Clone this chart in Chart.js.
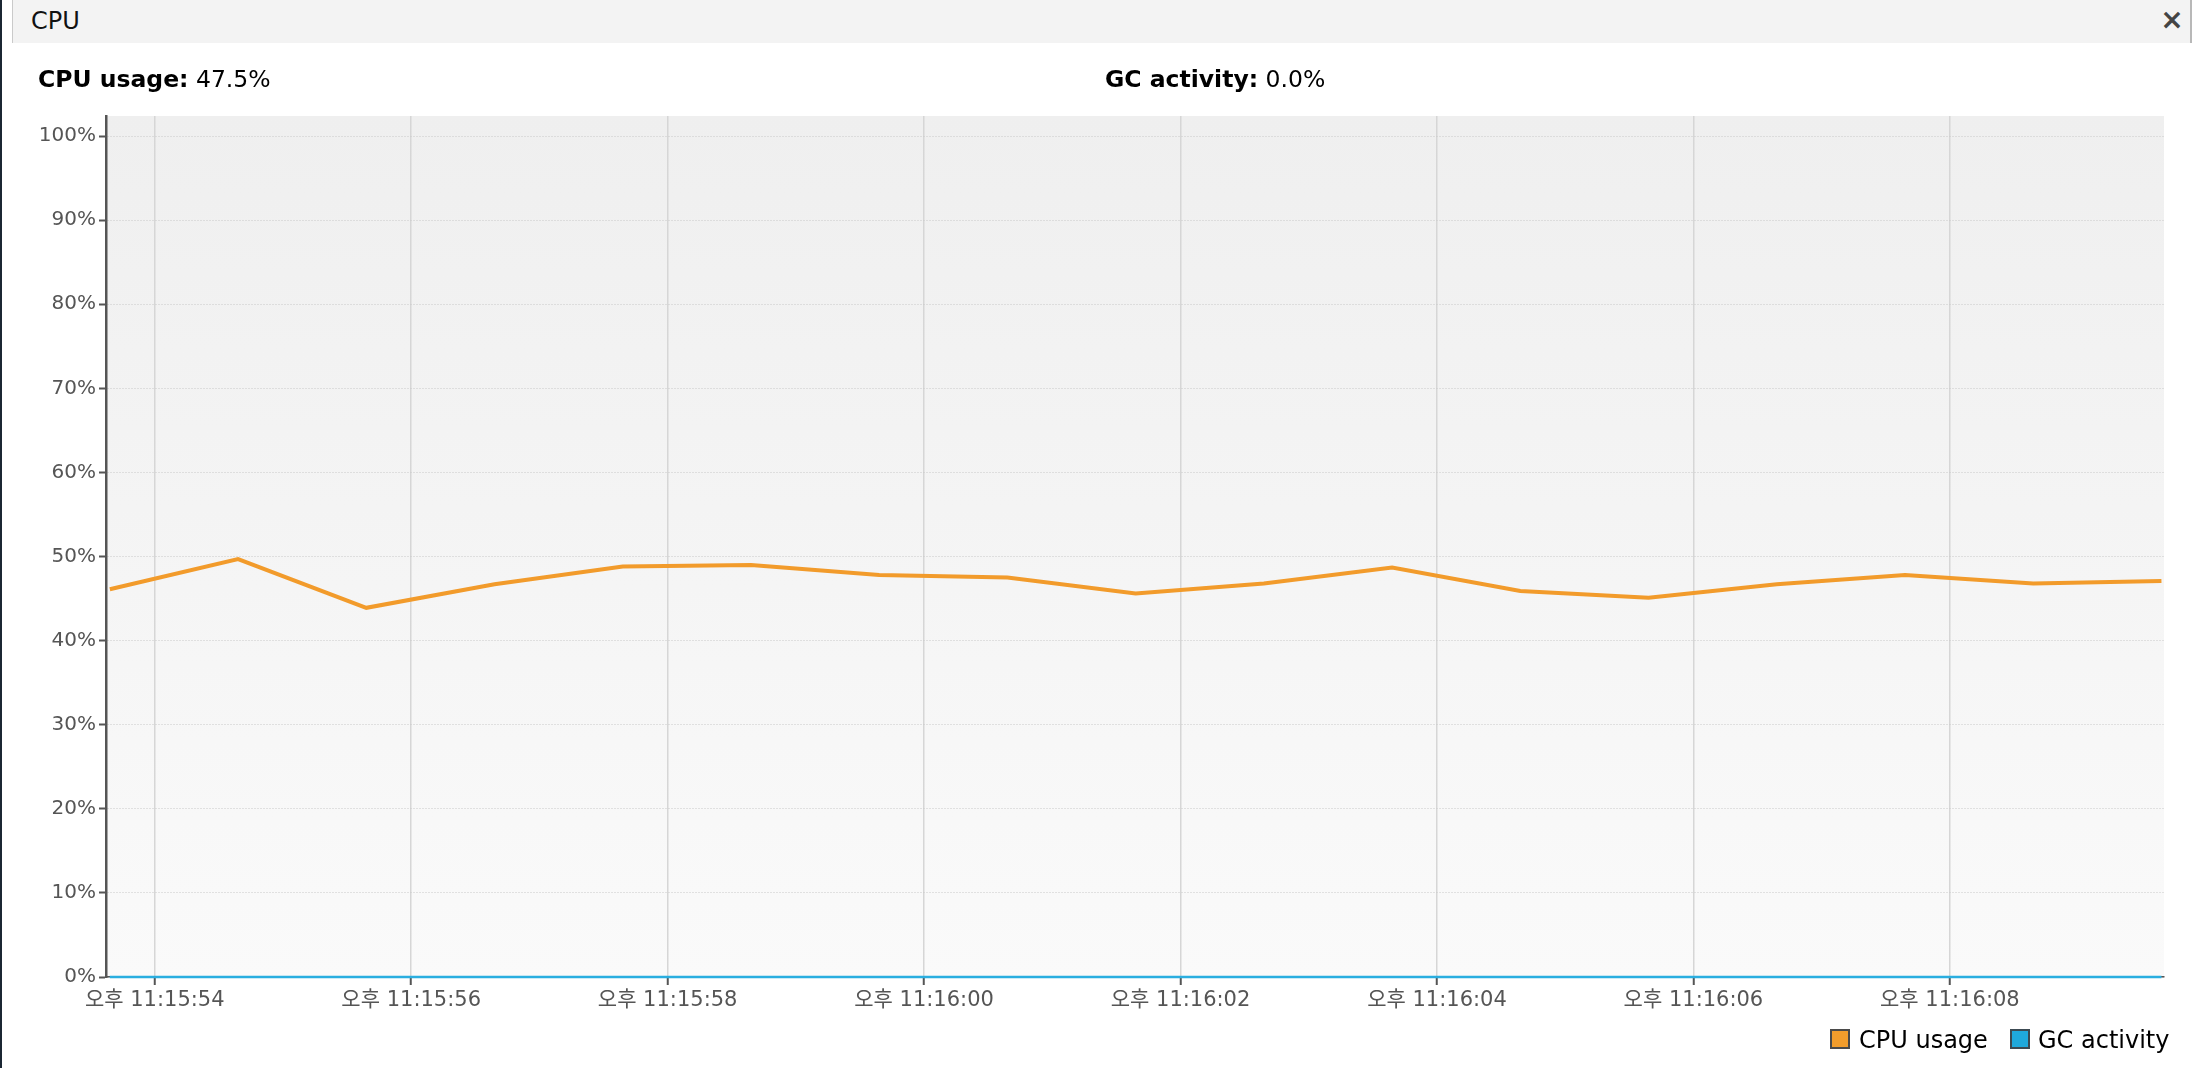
<!DOCTYPE html>
<html>
<head>
<meta charset="utf-8">
<script src="https://cdn.jsdelivr.net/npm/chart.js@4.4.1/dist/chart.umd.min.js"></script>
<style>
html,body{margin:0;padding:0;background:#fff;width:2194px;height:1068px;overflow:hidden;
  font-family:'DejaVu Sans','Noto Sans CJK KR',sans-serif;}
#chartBox{position:absolute;left:0;top:0;width:2194px;height:1068px;}
#leftbar{position:absolute;left:0;top:0;width:2px;height:1068px;background:#1b2633;z-index:3;}
#header{position:absolute;left:12px;top:0;width:2177px;height:43px;background:#f3f3f3;
  border-left:1px solid #cacaca;border-right:2px solid #b8b8b8;z-index:2;}
.txt{position:absolute;white-space:nowrap;z-index:4;}
#title{left:31px;top:9px;font-size:24px;line-height:24px;color:#111;}
#close{left:2160px;top:5px;width:24px;height:30px;font-size:28px;line-height:30px;font-weight:bold;color:#444;text-align:center;}
.stat{top:68px;font-size:23.5px;line-height:23px;color:#000;}
.stat b{font-weight:bold;}
.leg{top:1028px;font-size:24px;line-height:24px;color:#000;}
.sw{position:absolute;top:1029px;width:16px;height:16px;border:2px solid #4a4a4a;z-index:4;}
</style>
</head>
<body>
<div id="leftbar"></div>
<div id="header"></div>
<div class="txt" id="title">CPU</div>
<div class="txt" id="close">×</div>
<div class="txt stat" style="left:38px;"><b>CPU usage:</b> 47.5%</div>
<div class="txt stat" style="left:1105px;"><b>GC activity:</b> 0.0%</div>
<div class="sw" style="left:1830px;background:#f29d2c;border-color:#4a4a4a;"></div>
<div class="txt leg" style="left:1859px;">CPU usage</div>
<div class="sw" style="left:2010px;background:#1fa9dc;border-color:#3c4a52;"></div>
<div class="txt leg" style="left:2038px;">GC activity</div>
<div id="chartBox"><canvas id="c" width="2194" height="1068"></canvas></div>
<script>
// Sample times: seconds after 오후 11:15:00
const sampleSeconds = [53.65, 54.65, 55.65, 56.65, 57.65, 58.65, 59.65, 60.65, 61.65,
                       62.65, 63.65, 64.65, 65.65, 66.65, 67.65, 68.65, 69.65];
const cpuUsage = [46.1, 49.7, 43.9, 46.7, 48.8, 49.0, 47.8, 47.5, 45.6,
                  46.8, 48.7, 45.9, 45.1, 46.7, 47.8, 46.8, 47.1];
const gcActivity = [0, 0, 0, 0, 0, 0, 0, 0, 0, 0, 0, 0, 0, 0, 0, 0, 0];
const xTickSeconds = [54, 56, 58, 60, 62, 64, 66, 68];
const xTickLabels = ['오후 11:15:54', '오후 11:15:56', '오후 11:15:58', '오후 11:16:00',
                     '오후 11:16:02', '오후 11:16:04', '오후 11:16:06', '오후 11:16:08'];
const yTickValues = [0, 10, 20, 30, 40, 50, 60, 70, 80, 90, 100];
const seriesNames = ['CPU usage', 'GC activity'];

const FONT = "'DejaVu Sans','Noto Sans CJK KR',sans-serif";

const bgPlugin = {
  id: 'plotBg',
  beforeDraw(chart) {
    const {ctx, chartArea: {left, top, right, bottom}} = chart;
    const g = ctx.createLinearGradient(0, top, 0, bottom);
    g.addColorStop(0, '#efefef');
    g.addColorStop(1, '#fafafa');
    ctx.save();
    ctx.fillStyle = g;
    ctx.fillRect(left, top, right - left, bottom - top);
    ctx.restore();
  }
};

new Chart(document.getElementById('c'), {
  type: 'line',
  data: {
    datasets: [
      {
        label: seriesNames[0],
        data: sampleSeconds.map((s, i) => ({x: s, y: cpuUsage[i]})),
        borderColor: '#f29b2b',
        borderWidth: 4,
        pointRadius: 0,
        tension: 0,
        fill: false
      },
      {
        label: seriesNames[1],
        data: sampleSeconds.map((s, i) => ({x: s, y: gcActivity[i]})),
        borderColor: '#2aaee0',
        borderWidth: 2.5,
        pointRadius: 0,
        tension: 0,
        fill: false,
        clip: {left: 0, top: 0, right: 0, bottom: 2}
      }
    ]
  },
  options: {
    responsive: false,
    devicePixelRatio: 1,
    animation: false,
    layout: {padding: {top: 116, right: 30, bottom: 0, left: 0}},
    plugins: {legend: {display: false}, tooltip: {enabled: false}},
    scales: {
      x: {
        type: 'linear',
        min: 53.62,
        max: 69.67,
        afterBuildTicks: (axis) => { axis.ticks = xTickSeconds.map(v => ({value: v})); },
        afterFit: (s) => { s.height = 91; },
        ticks: {
          callback: (v, i) => xTickLabels[i],
          font: {family: FONT, size: 21},
          color: '#555',
          maxRotation: 0,
          autoSkip: false,
          padding: 3
        },
        grid: {color: '#d6d6d6', lineWidth: 1.5, tickColor: '#555', tickWidth: 2, tickLength: 8},
        border: {color: '#555', width: 1.5}
      },
      y: {
        min: 0,
        max: 102.38,
        afterBuildTicks: (axis) => { axis.ticks = yTickValues.map(v => ({value: v})); },
        afterFit: (s) => { s.width = 106; },
        ticks: {
          callback: (v) => v + '%',
          font: {family: FONT, size: 20},
          color: '#555',
          padding: 3
        },
        grid: {color: '#c9c9c9', lineWidth: 1, tickColor: '#555', tickWidth: 2, tickLength: 7},
        border: {color: '#555', width: 2.5, dash: [1, 2]}
      }
    }
  },
  plugins: [bgPlugin]
});
</script>
</body>
</html>
